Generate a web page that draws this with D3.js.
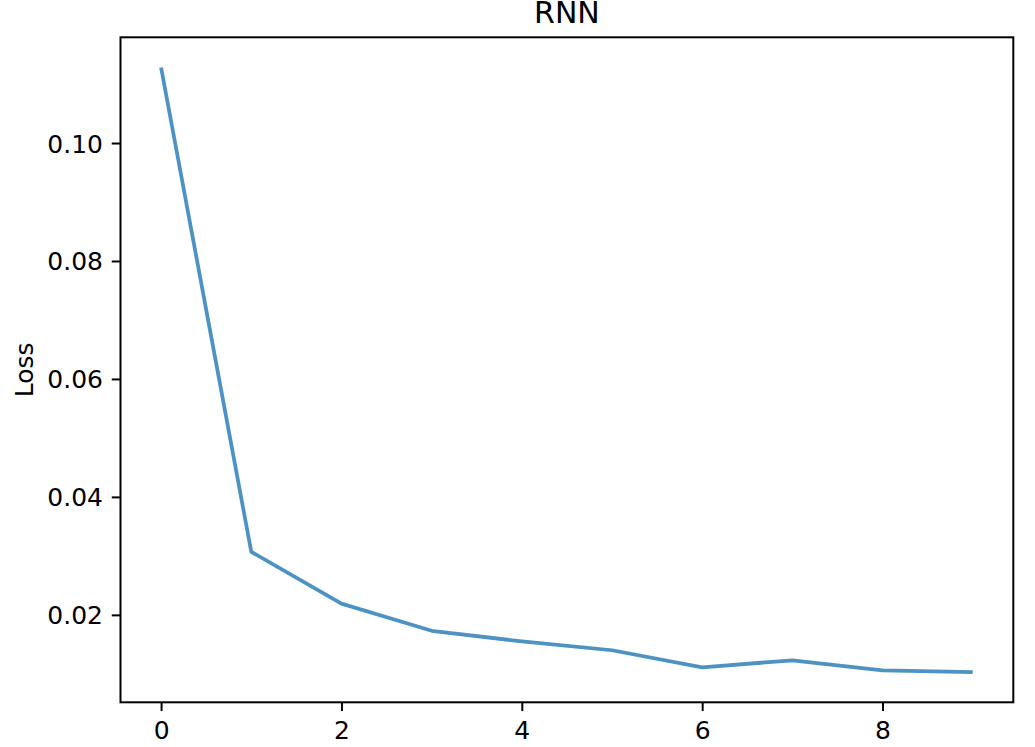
<!DOCTYPE html>
<html>
<head>
<meta charset="utf-8">
<script src="https://cdn.jsdelivr.net/npm/d3@7"></script>
<style>
  html, body { margin: 0; padding: 0; background: #fff; }
  svg { display: block; font-family: "DejaVu Sans", sans-serif; }
</style>
</head>
<body>
<svg id="chart" width="1035" height="747"></svg>
<script>
const epochs = [0, 1, 2, 3, 4, 5, 6, 7, 8, 9];
const loss = [0.1128, 0.0307, 0.0219, 0.0173, 0.0155, 0.0140, 0.0111, 0.0123, 0.0106, 0.0103];
const xTicks = [0, 2, 4, 6, 8];
const yTicks = [0.02, 0.04, 0.06, 0.08, 0.10];
const titleText = "RNN";
const yLabelText = "Loss";

const svg = d3.select("#chart");
const mLeft = 120.5, mRight = 1013.3, mTop = 37.3, mBottom = 702.3;

const xMin = d3.min(epochs), xMax = d3.max(epochs);
const xPad = (xMax - xMin) * 0.05;
const yMin = d3.min(loss), yMax = d3.max(loss);
const yPad = (yMax - yMin) * 0.05;

const x = d3.scaleLinear().domain([xMin - xPad, xMax + xPad]).range([mLeft, mRight]);
const y = d3.scaleLinear().domain([yMin - yPad, yMax + yPad]).range([mBottom, mTop]);

// line
const line = d3.line().x((d, i) => x(epochs[i])).y(d => y(d));
svg.append("path")
  .datum(loss)
  .attr("d", line)
  .attr("fill", "none")
  .attr("stroke", "#1f77b4")
  .attr("stroke-opacity", 0.8)
  .attr("stroke-width", 3.75)
  .attr("stroke-linejoin", "round")
  .attr("stroke-linecap", "butt");

// axes
const tickLen = 8.75, tickPad = 8.75;
const xAxis = d3.axisBottom(x).tickValues(xTicks).tickFormat(d3.format("d"))
  .tickSize(tickLen).tickPadding(tickPad);
const yAxis = d3.axisLeft(y).tickValues(yTicks).tickFormat(d3.format(".2f"))
  .tickSize(tickLen).tickPadding(tickPad);

const gx = svg.append("g").attr("transform", `translate(0,${mBottom})`).call(xAxis);
const gy = svg.append("g").attr("transform", `translate(${mLeft},0)`).call(yAxis);
[gx, gy].forEach(g => {
  g.select(".domain").remove();
  g.selectAll(".tick line").attr("stroke", "#000").attr("stroke-width", 2);
  g.selectAll(".tick text").attr("fill", "#000")
    .style("font-family", '"DejaVu Sans", sans-serif').style("font-size", "25px");
});
gx.selectAll(".tick text").attr("dy", null).attr("y", 739 - mBottom);
gy.selectAll(".tick text").attr("dy", "0.36em");

// frame
svg.append("rect")
  .attr("x", mLeft).attr("y", mTop)
  .attr("width", mRight - mLeft).attr("height", mBottom - mTop)
  .attr("fill", "none").attr("stroke", "#000").attr("stroke-width", 2);

// title
svg.append("text")
  .attr("x", (mLeft + mRight) / 2).attr("y", 23)
  .attr("text-anchor", "middle")
  .style("font-size", "30px").attr("fill", "#000")
  .text(titleText);

// y label
svg.append("text")
  .attr("transform", `translate(33,${(mTop + mBottom) / 2}) rotate(-90)`)
  .attr("text-anchor", "middle")
  .style("font-size", "25px").attr("fill", "#000")
  .text(yLabelText);
</script>
</body>
</html>
